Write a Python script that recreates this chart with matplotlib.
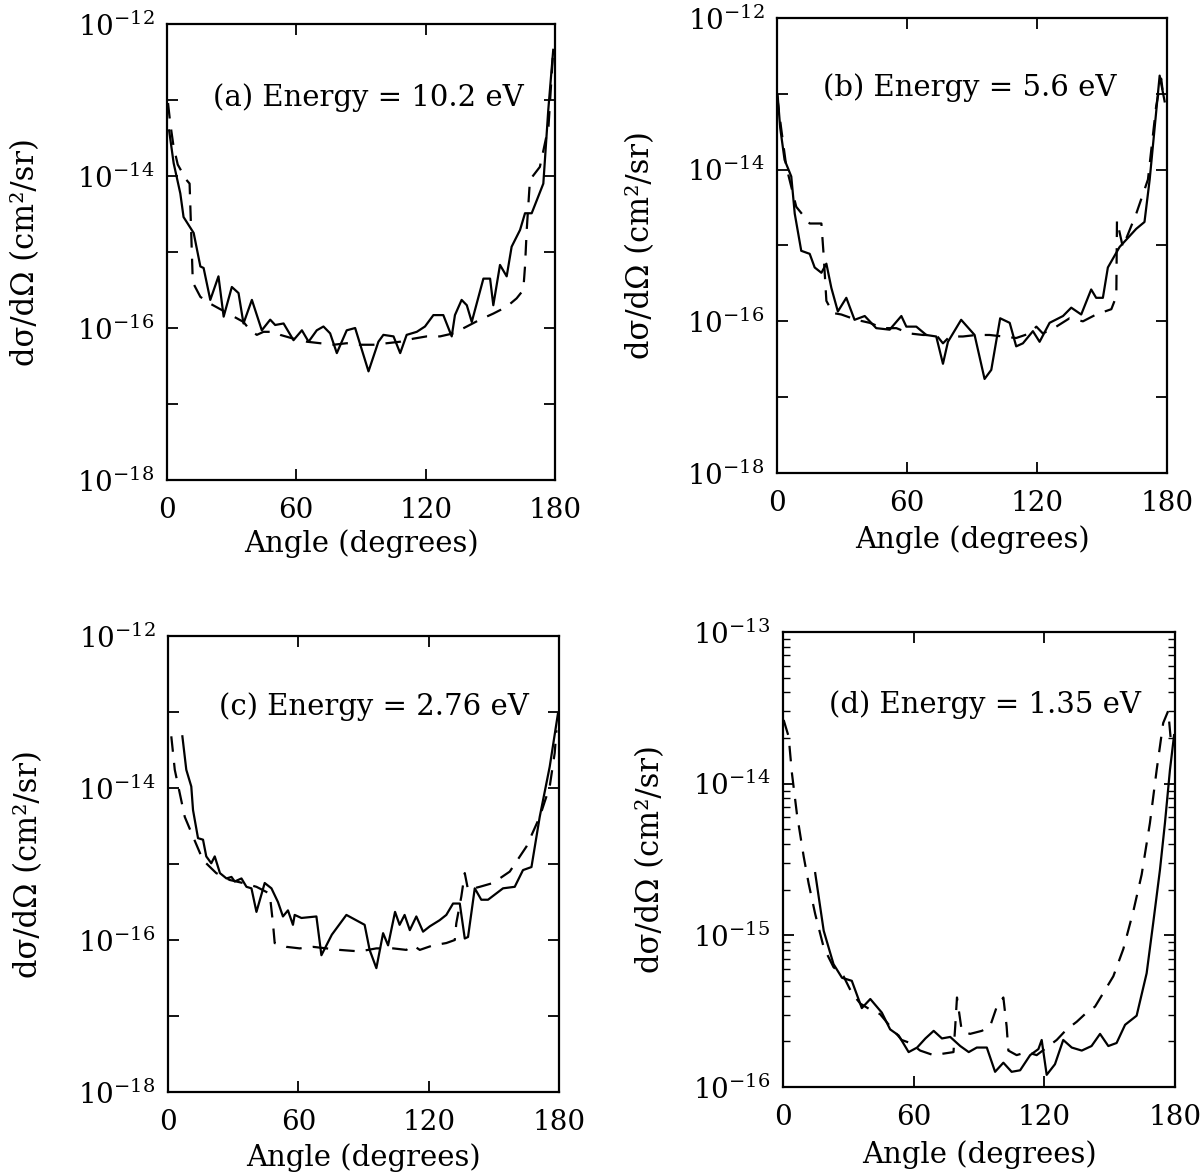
import numpy as np
import matplotlib
matplotlib.use("Agg")
import matplotlib.pyplot as plt
from matplotlib.ticker import FixedLocator, FixedFormatter, LogLocator, NullFormatter

plt.rcParams['font.family'] = ['DejaVu Serif']
plt.rcParams['mathtext.fontset'] = 'dejavuserif'

# ---------------- data (angle in degrees, log10 of dsigma/dOmega in cm^2/sr) ----------------
a_solid_x = [1.0, 3.1, 6.2, 7.7, 12.4, 15.5, 17.0, 20.1, 23.9, 26.3, 30.1, 33.2, 35.5, 39.4, 44.0, 47.9,
             50.2, 54.1, 58.7, 62.6, 65.7, 69.5, 72.6, 75.7, 78.8, 83.4, 87.3, 93.5, 98.1, 100.4, 105.1,
             108.2, 111.2, 115.9, 119.7, 123.6, 128.2, 132.1, 133.6, 136.7, 139.1, 141.4, 146.8, 149.9,
             151.4, 154.5, 157.6, 159.9, 163.8, 166.1, 169.2, 174.6, 176.9, 179.2]
a_solid_log = [-13.40, -13.83, -14.23, -14.54, -14.75, -15.19, -15.21, -15.63, -15.32, -15.85, -15.46, -15.54,
               -15.94, -15.63, -16.03, -15.89, -15.96, -15.94, -16.16, -16.03, -16.18, -16.03, -15.98, -16.07,
               -16.33, -16.03, -16.00, -16.57, -16.18, -16.09, -16.11, -16.33, -16.09, -16.05, -15.98, -15.83,
               -15.83, -16.11, -15.83, -15.63, -15.70, -15.92, -15.35, -15.35, -15.70, -15.17, -15.32, -14.93,
               -14.71, -14.49, -14.49, -14.10, -13.13, -12.34]
a_dash_x = [0.5, 1.5, 3.0, 5.0, 9.0, 10.5, 12.0, 15.5, 20.1, 35.5, 38.6, 41.7, 44.8, 49.4, 52.5, 58.7,
            64.9, 71.1, 77.3, 83.4, 89.6, 95.8, 102.0, 108.2, 114.3, 120.5, 126.7, 132.9, 139.1, 145.2,
            151.4, 157.6, 162.2, 165.3, 166.1, 166.9, 168.4, 173.0, 177.0, 179.0]
a_dash_log = [-13.04, -13.30, -13.60, -13.85, -14.05, -14.10, -15.40, -15.59, -15.68, -15.92, -16.03, -16.09,
              -16.05, -16.05, -16.09, -16.14, -16.18, -16.20, -16.22, -16.20, -16.22, -16.22, -16.20, -16.18,
              -16.14, -16.11, -16.11, -16.07, -15.98, -15.89, -15.81, -15.72, -15.61, -15.50, -15.19, -14.71,
              -14.05, -13.88, -13.35, -12.43]

b_solid_x = [0.3, 1.5, 3.5, 6.6, 8.2, 11.2, 15.1, 17.4, 20.5, 22.8, 25.1, 28.1, 32.0, 35.8, 40.5, 45.8,
             52.0, 57.4, 59.7, 64.3, 68.9, 73.5, 76.6, 78.9, 85.0, 91.2, 95.8, 98.9, 103.0, 107.4, 110.4,
             113.5, 118.1, 121.2, 125.8, 132.0, 135.8, 140.4, 145.0, 147.3, 150.4, 152.7, 158.1, 165.8,
             169.6, 172.0, 176.6, 178.9]
b_solid_log = [-13.02, -13.45, -13.87, -14.09, -14.58, -15.07, -15.11, -15.29, -15.36, -15.24, -15.56, -15.87,
               -15.69, -15.98, -15.93, -16.09, -16.11, -15.93, -16.07, -16.07, -16.18, -16.20, -16.56, -16.27,
               -15.98, -16.18, -16.76, -16.64, -15.96, -16.02, -16.33, -16.29, -16.13, -16.27, -16.02, -15.93,
               -15.82, -15.91, -15.58, -15.69, -15.69, -15.29, -15.02, -14.78, -14.69, -14.13, -12.76, -13.10]
b_dash_x = [0.0, 2.0, 4.3, 8.9, 15.1, 20.5, 21.5, 22.8, 25.8, 29.7, 36.6, 42.8, 48.9, 55.1, 61.2, 67.4,
            73.5, 76.6, 79.7, 85.8, 92.0, 98.1, 104.3, 110.4, 116.6, 119.7, 122.7, 128.9, 135.0, 141.2,
            147.3, 154.3, 156.6, 156.9, 159.6, 165.8, 171.2, 175.0, 177.3, 178.1]
b_dash_log = [-13.02, -13.47, -13.96, -14.49, -14.71, -14.71, -15.11, -15.73, -15.89, -15.91, -15.98, -16.02,
              -16.09, -16.09, -16.16, -16.18, -16.18, -16.29, -16.20, -16.20, -16.18, -16.18, -16.20, -16.22,
              -16.16, -16.07, -16.16, -16.07, -15.96, -16.00, -15.91, -15.84, -15.67, -14.67, -15.02, -14.58,
              -14.13, -13.16, -12.80, -12.98]

c_solid_x = [6.6, 8.4, 10.7, 11.5, 13.8, 16.1, 17.6, 19.9, 21.5, 23.9, 26.9, 29.2, 30.7, 33.8, 36.1, 38.4,
             40.7, 44.5, 47.6, 50.6, 52.9, 55.2, 57.5, 58.3, 61.4, 68.3, 70.6, 75.4, 82.1, 90.5, 92.8, 95.9,
             99.0, 101.3, 104.5, 106.6, 108.9, 111.3, 114.3, 117.4, 120.5, 125.0, 128.1, 131.2, 134.3,
             136.6, 138.1, 141.2, 144.2, 147.3, 154.2, 159.6, 163.4, 167.3, 171.1, 175.7, 179.5]
c_solid_log = [-13.32, -13.76, -13.98, -14.29, -14.66, -14.68, -14.90, -14.99, -14.90, -15.12, -15.19, -15.17,
               -15.23, -15.19, -15.30, -15.32, -15.63, -15.25, -15.32, -15.50, -15.69, -15.61, -15.80, -15.67,
               -15.71, -15.69, -16.20, -15.93, -15.67, -15.80, -16.13, -16.37, -15.91, -16.07, -15.63, -15.80,
               -15.67, -15.87, -15.69, -15.89, -15.82, -15.74, -15.67, -15.52, -15.52, -15.98, -15.96, -15.32,
               -15.47, -15.47, -15.32, -15.30, -15.08, -15.04, -14.38, -13.72, -13.02]
c_dash_x = [1.5, 3.1, 5.4, 7.7, 11.5, 16.1, 22.2, 28.4, 34.5, 40.7, 46.8, 48.3, 49.1, 54.5, 60.6, 66.8,
            72.9, 79.0, 88.2, 95.9, 103.6, 109.7, 112.8, 115.9, 122.0, 128.1, 132.0, 132.7, 135.0, 136.6,
            138.1, 143.5, 149.6, 157.3, 165.0, 171.1, 175.7, 178.0, 178.8]
c_dash_log = [-13.32, -13.76, -14.07, -14.38, -14.64, -14.95, -15.12, -15.21, -15.25, -15.30, -15.39, -15.78,
              -16.04, -16.09, -16.11, -16.09, -16.11, -16.13, -16.15, -16.11, -16.11, -16.13, -16.07, -16.13,
              -16.07, -16.04, -16.00, -15.78, -15.43, -15.12, -15.34, -15.30, -15.25, -15.10, -14.77, -14.38,
              -13.98, -13.54, -13.24]

d_solid_x = [14.8, 18.7, 23.2, 27.1, 31.6, 36.2, 40.1, 45.4, 49.2, 53.1, 57.7, 61.6, 65.4, 69.2, 73.0,
             76.8, 81.4, 85.3, 89.0, 93.6, 97.4, 101.2, 105.0, 108.9, 113.5, 117.3, 118.8, 121.1, 124.9,
             128.7, 132.6, 137.2, 141.7, 145.6, 149.4, 153.2, 157.1, 162.4, 167.0, 170.0, 173.1, 175.4,
             177.7, 179.6]
d_solid_log = [-14.59, -14.97, -15.19, -15.28, -15.30, -15.48, -15.42, -15.51, -15.62, -15.66, -15.77, -15.74,
               -15.68, -15.63, -15.68, -15.67, -15.73, -15.77, -15.74, -15.74, -15.90, -15.84, -15.90, -15.89,
               -15.79, -15.75, -15.69, -15.92, -15.85, -15.69, -15.74, -15.76, -15.73, -15.65, -15.73, -15.71,
               -15.59, -15.53, -15.25, -14.92, -14.57, -14.26, -13.91, -13.68]
d_dash_x = [0.3, 2.6, 4.1, 6.4, 9.5, 11.8, 14.8, 18.7, 23.2, 27.8, 31.6, 35.5, 40.1, 44.6, 49.2, 54.5,
            58.4, 63.0, 69.1, 73.7, 78.3, 79.1, 79.9, 82.1, 85.9, 91.3, 95.1, 98.2, 101.2, 102.7, 103.5,
            107.3, 111.9, 116.5, 121.1, 125.7, 130.3, 134.9, 139.4, 143.3, 147.1, 151.7, 156.3, 160.9,
            164.7, 168.5, 171.6, 174.6, 176.9, 178.4]
d_dash_log = [-13.58, -13.69, -13.93, -14.20, -14.48, -14.66, -14.86, -15.08, -15.21, -15.27, -15.38, -15.45,
              -15.49, -15.52, -15.60, -15.69, -15.71, -15.76, -15.79, -15.78, -15.77, -15.60, -15.41, -15.63,
              -15.65, -15.63, -15.60, -15.47, -15.41, -15.60, -15.76, -15.79, -15.77, -15.79, -15.74, -15.69,
              -15.62, -15.57, -15.51, -15.47, -15.38, -15.27, -15.09, -14.84, -14.60, -14.26, -13.91, -13.60,
              -13.52, -13.76]

panel_labels = ["(a) Energy = 10.2 eV", "(b) Energy = 5.6 eV",
                "(c) Energy = 2.76 eV", "(d) Energy = 1.35 eV"]
x_ticks = [0, 60, 120, 180]
y_exp_abc = [-18, -17, -16, -15, -14, -13, -12]
y_exp_d = [-16, -15, -14, -13]
x_label = "Angle (degrees)"
y_label = "dσ/dΩ (cm²/sr)"

# ---------------- figure ----------------
fig = plt.figure(figsize=(12.02, 11.76), dpi=100)

rects = [
    [0.1389, 0.5918, 0.3228, 0.3878],
    [0.6464, 0.5978, 0.3245, 0.3869],
    [0.1398, 0.0714, 0.3253, 0.3878],
    [0.6514, 0.0757, 0.3261, 0.3869],
]
text_pos = [(0.519, 0.838), (0.495, 0.846), (0.527, 0.846), (0.515, 0.840)]
ylabel_pos = [(-0.365, 0.5), (-0.351, 0.5), (-0.358, 0.5), (-0.337, 0.5)]
xlabel_pos = [(0.5, -0.140), (0.5, -0.147), (0.5, -0.143), (0.5, -0.149)]

series = [
    (a_solid_x, a_solid_log, a_dash_x, a_dash_log),
    (b_solid_x, b_solid_log, b_dash_x, b_dash_log),
    (c_solid_x, c_solid_log, c_dash_x, c_dash_log),
    (d_solid_x, d_solid_log, d_dash_x, d_dash_log),
]

for i in range(4):
    ax = fig.add_axes(rects[i])
    sx, sy, dx, dy = series[i]
    ax.plot(sx, np.power(10.0, sy), color='black', lw=1.6)
    ax.plot(dx, np.power(10.0, dy), color='black', lw=1.6, dashes=(7, 5))
    ax.set_yscale('log')
    ax.set_xlim(0, 180)
    ax.set_xticks(x_ticks)
    ax.set_xticklabels([str(t) for t in x_ticks])
    if i < 3:
        exps = y_exp_abc
        ax.set_ylim(10.0 ** exps[0], 10.0 ** exps[-1])
        ax.yaxis.set_major_locator(FixedLocator([10.0 ** e for e in exps]))
        ax.yaxis.set_major_formatter(FixedFormatter(
            [r'$10^{%d}$' % e if e % 2 == 0 else '' for e in exps]))
        ax.yaxis.set_minor_locator(FixedLocator([]))
    else:
        exps = y_exp_d
        ax.set_ylim(10.0 ** exps[0], 10.0 ** exps[-1])
        ax.yaxis.set_major_locator(FixedLocator([10.0 ** e for e in exps]))
        ax.yaxis.set_major_formatter(FixedFormatter([r'$10^{%d}$' % e for e in exps]))
        ax.yaxis.set_minor_locator(LogLocator(base=10, subs=np.arange(2, 10)))
        ax.yaxis.set_minor_formatter(NullFormatter())
    ax.tick_params(which='major', direction='in', length=8, width=1.3,
                   top=True, right=True, labelsize=20)
    ax.tick_params(which='minor', direction='in', length=5, width=1.0,
                   left=True, right=True)
    ax.tick_params(axis='x', pad=12)
    ax.tick_params(axis='y', pad=9)
    for sp in ax.spines.values():
        sp.set_linewidth(1.6)
    ax.text(text_pos[i][0], text_pos[i][1], panel_labels[i], transform=ax.transAxes,
            ha='center', va='center', fontsize=21)
    ax.set_xlabel(x_label, fontsize=21, va='center')
    ax.set_ylabel(y_label, fontsize=22, va='center')
    ax.xaxis.set_label_coords(*xlabel_pos[i])
    ax.yaxis.set_label_coords(*ylabel_pos[i])

fig.savefig("out.png", dpi=100)
